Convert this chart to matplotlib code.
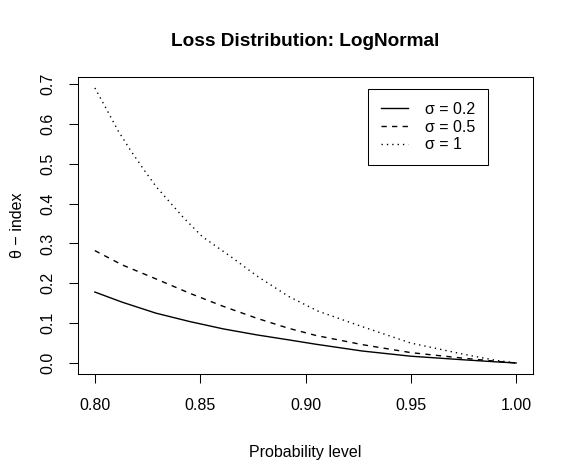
import matplotlib
matplotlib.use("Agg")
import matplotlib.pyplot as plt

# values
p_s02 = [0.800, 0.813, 0.829, 0.845, 0.861, 0.877, 0.892, 0.905, 0.927, 0.950, 0.975, 0.990, 1.000]
theta_s02 = [0.178, 0.1525, 0.125, 0.104, 0.0855, 0.0704, 0.058, 0.047, 0.030, 0.017, 0.008, 0.003, 0.000]

p_s05 = [0.800, 0.813, 0.829, 0.845, 0.861, 0.877, 0.892, 0.905, 0.927, 0.950, 0.975, 0.990, 1.000]
theta_s05 = [0.282, 0.246, 0.211, 0.175, 0.142, 0.112, 0.087, 0.069, 0.046, 0.026, 0.012, 0.0045, 0.000]

p_s1 = [0.800, 0.805, 0.811, 0.817, 0.823, 0.829, 0.836, 0.842, 0.851, 0.865, 0.877, 0.892, 0.906, 0.927, 0.950, 0.975, 0.990, 1.000]
theta_s1 = [0.690, 0.642, 0.583, 0.533, 0.487, 0.443, 0.401, 0.365, 0.317, 0.265, 0.218, 0.167, 0.130, 0.091, 0.050, 0.022, 0.007, 0.000]

labels = ["\u03c3 = 0.2", "\u03c3 = 0.5", "\u03c3 = 1"]
xticks = [0.80, 0.85, 0.90, 0.95, 1.00]
yticks = [0.0, 0.1, 0.2, 0.3, 0.4, 0.5, 0.6, 0.7]

plt.rcParams['font.family'] = ['Liberation Sans', 'DejaVu Sans']
plt.rcParams['lines.scale_dashes'] = False

fig = plt.figure(figsize=(5.74, 4.74), dpi=100)
ax = fig.add_axes([0.1359, 0.2110, 0.7927, 0.6266])

ax.plot(p_s02, theta_s02, color='black', lw=1.0, linestyle='-', label=labels[0])
ax.plot(p_s05, theta_s05, color='black', lw=1.0, linestyle=(0, (3.8, 3.8)), label=labels[1])
ax.plot(p_s1, theta_s1, color='black', lw=1.0, linestyle=(0, (0.96, 2.9)), label=labels[2])

ax.margins(x=0.04, y=0.04)
ax.set_xticks(xticks)
ax.set_xticklabels(["%.2f" % v for v in xticks])
ax.set_yticks(yticks)
ax.set_yticklabels(["%.1f" % v for v in yticks], rotation=90, va='center', ha='right')

ax.tick_params(axis='both', direction='out', length=6.8, width=0.75, labelsize=11.5, color='black')
ax.tick_params(axis='x', pad=10.5)
ax.tick_params(axis='y', pad=9.5)
for s in ax.spines.values():
    s.set_linewidth(0.75)

ax.set_xlabel("Probability level", fontsize=11.5)
ax.set_ylabel("\u03b8 \u2212 index", fontsize=11.5)
ax.xaxis.set_label_coords(0.5, -0.266)
ax.xaxis.label.set_va('center')
ax.yaxis.set_label_coords(-0.134, 0.5)
ax.yaxis.label.set_va('center')

pos = ax.get_position()
fig.text((pos.x0 + pos.x1) / 2, 1 - 42 / 474, "Loss Distribution: LogNormal",
         ha='center', va='center', fontsize=13.7, fontweight='bold')

leg = ax.legend(loc='upper right', bbox_to_anchor=(0.901, 0.96), borderaxespad=0,
                fontsize=11.5, handlelength=1.7, handletextpad=1.05, borderpad=0.8,
                labelspacing=0.18, fancybox=False, framealpha=1, edgecolor='black')
leg.get_frame().set_linewidth(0.75)

fig.savefig("out.png", dpi=100)
